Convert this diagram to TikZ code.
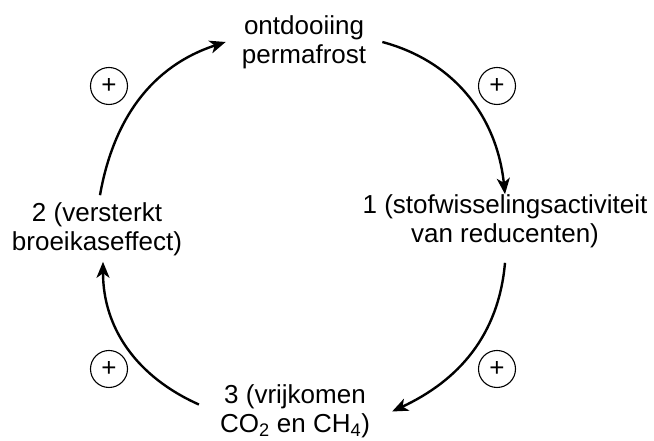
\documentclass[tikz,border=0pt]{standalone}
\usepackage{fontspec}
\setmainfont{Liberation Sans}
\usetikzlibrary{arrows.meta}

\begin{document}
\begin{tikzpicture}[x=1pt,y=1pt,
	txt/.style={align=center,inner sep=0pt,font=\fontsize{26}{29}\selectfont},
	pls/.style={circle,draw=black,line width=1.1pt,minimum size=37pt,inner sep=0pt,font=\fontsize{26}{29}\selectfont},
	arr/.style={-{Stealth[length=16pt,width=13pt,inset=4.5pt]},line width=2.4pt}]
	\useasboundingbox (0,0) rectangle (654,441);
	\node[txt] (perma) at (304,399) {ontdooiing\\permafrost};
	\node[txt] (stof) at (505,220) {1 (stofwisselingsactiviteit\\van reducenten)};
	\node[txt] (vrij) at (295,29.5) {3 (vrijkomen\\CO\textsubscript{2} en CH\textsubscript{4})};
	\node[txt] (broei) at (97,212) {2 (versterkt\\broeikaseffect)};
	\node[pls] (p1) at (497,355) {+};
	\node[pls] (p2) at (497,72) {+};
	\node[pls] (p3) at (109,72) {+};
	\node[pls] (p4) at (109,355) {+};
	\path ([xshift=16pt]perma.east) edge[arr, out=-15, in=96] (stof.north);
	\path ([yshift=-15pt]stof.south) edge[arr, out=-95, in=25] ([xshift=22pt]vrij.east);
	\path ([xshift=-21pt,yshift=7pt]vrij.west) edge[arr, out=156, in=-90] ([xshift=6pt,yshift=-6pt]broei.south);
	\path ([xshift=3pt,yshift=7pt]broei.north) edge[arr, out=80, in=-162] ([xshift=-16pt]perma.west);
\end{tikzpicture}
\end{document}
